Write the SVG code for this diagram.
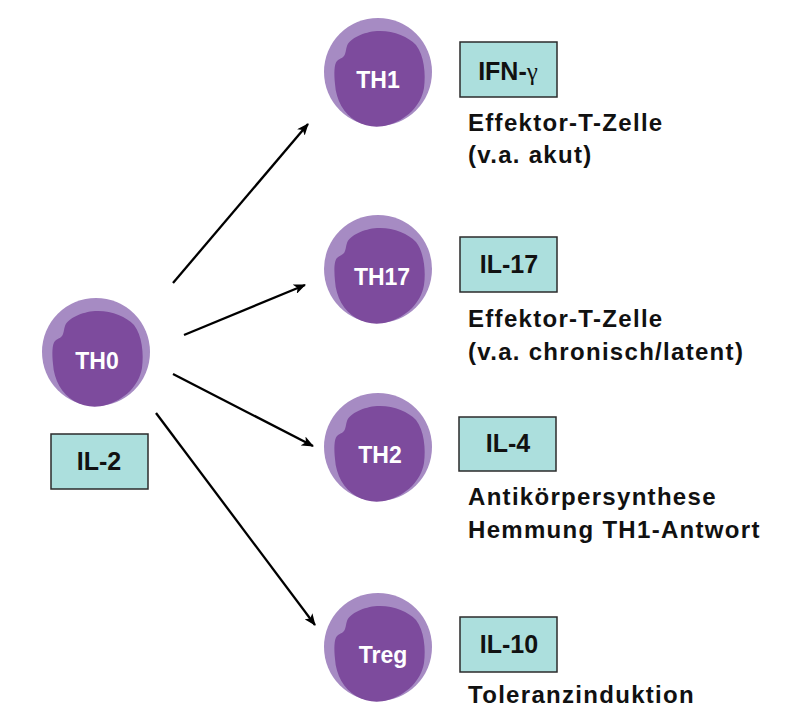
<svg xmlns="http://www.w3.org/2000/svg" width="800" height="714" viewBox="0 0 800 714">
<style>
.outer{fill:#a68bc3}
.inner{fill:#7d4b9d}
.ct{fill:#ffffff;font-family:"Liberation Sans",Arial,sans-serif;font-weight:bold;font-size:23px;text-anchor:middle}
.box{fill:#acdfdd;stroke:#2b2b2b;stroke-width:1.5}
.bt{fill:#111;font-family:"Liberation Sans",Arial,sans-serif;font-weight:bold;font-size:25px;text-anchor:middle}
.lt{fill:#111;font-family:"Liberation Sans",Arial,sans-serif;font-weight:bold;font-size:24px;letter-spacing:1.3px}
.arr{stroke:#000;stroke-width:2.3;fill:none;marker-end:url(#ah)}
</style>
<defs>
<marker id="ah" viewBox="0 0 12 10" refX="11" refY="5" markerWidth="12" markerHeight="10" markerUnits="userSpaceOnUse" orient="auto">
<path d="M0,0 L12,5 L0,10 L3,5 Z" fill="#000"/>
</marker>
<g id="cell">
<circle cx="0" cy="0" r="54" class="outer"/>
<path class="inner" d="M -31,-26 C -28,-34 -14,-40 -1,-41 C 14,-42 30,-36 38,-27 C 46,-17 48,2 46,16 C 43,34 28,48 10,53 C 0,56 -12,55 -22,49 C -34,42 -42,28 -43,12 C -44,2 -44,-8 -41,-11 C -38,-14 -34,-14 -33,-18 C -32,-21 -32,-23 -31,-26 Z"/>
</g>
</defs>
<rect width="800" height="714" fill="#fff"/>
<g id="connectors">
<line class="arr" x1="173" y1="283" x2="308" y2="124"/>
<line class="arr" x1="184" y1="335" x2="305" y2="285"/>
<line class="arr" x1="173" y1="374" x2="313" y2="446"/>
<line class="arr" x1="156" y1="413" x2="315" y2="625"/>
</g>
<g id="th0">
<use href="#cell" x="96" y="352"/>
<text class="ct" x="97" y="369">TH0</text>
</g>
<g id="il2">
<rect class="box" x="51" y="434" width="97" height="55"/>
<text class="bt" x="99" y="470">IL-2</text>
</g>
<g id="th1">
<use href="#cell" x="378" y="72"/>
<text class="ct" x="378" y="88">TH1</text>
</g>
<g id="ifn">
<rect class="box" x="460" y="42" width="97" height="55"/>
<text class="bt" x="508" y="80">IFN-<tspan font-family="'Liberation Serif',serif" font-weight="normal">γ</tspan></text>
</g>
<g id="th1-desc">
<text class="lt" x="468" y="131">Effektor-T-Zelle</text>
<text class="lt" x="468" y="163">(v.a. akut)</text>
</g>
<g id="th17">
<use href="#cell" x="378" y="269"/>
<text class="ct" x="382" y="285">TH17</text>
</g>
<g id="il17">
<rect class="box" x="460" y="237" width="97" height="55"/>
<text class="bt" x="509" y="273">IL-17</text>
</g>
<g id="th17-desc">
<text class="lt" x="468" y="327">Effektor-T-Zelle</text>
<text class="lt" x="468" y="360">(v.a. chronisch/latent)</text>
</g>
<g id="th2">
<use href="#cell" x="378" y="447"/>
<text class="ct" x="380" y="463">TH2</text>
</g>
<g id="il4">
<rect class="box" x="459" y="417" width="97" height="54"/>
<text class="bt" x="508" y="452">IL-4</text>
</g>
<g id="th2-desc">
<text class="lt" x="468" y="505">Antikörpersynthese</text>
<text class="lt" x="468" y="538">Hemmung TH1-Antwort</text>
</g>
<g id="treg">
<use href="#cell" x="378" y="647"/>
<text class="ct" x="383" y="663">Treg</text>
</g>
<g id="il10">
<rect class="box" x="460" y="617" width="97" height="55"/>
<text class="bt" x="509" y="653">IL-10</text>
</g>
<g id="treg-desc">
<text class="lt" x="468" y="703">Toleranzinduktion</text>
</g>
</svg>
